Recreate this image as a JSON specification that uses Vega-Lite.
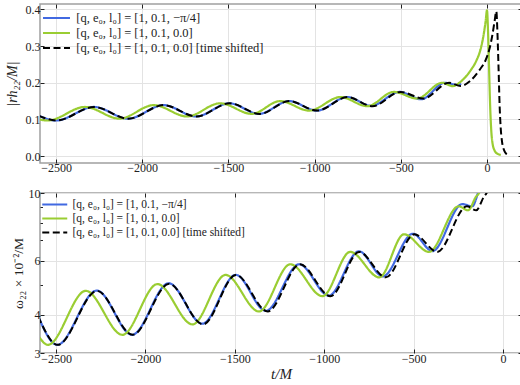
{
  "$schema": "https://vega.github.io/schema/vega-lite/v6.json",
  "padding": {"left": 4, "top": 2, "right": 2, "bottom": 2},
  "spacing": 12,
  "config": {
    "font": "Liberation Serif",
    "view": {"stroke": "#a0a0a0", "strokeWidth": 1.5},
    "axis": {
      "domain": false, "grid": true, "gridColor": "#e3e3e3", "gridWidth": 1,
      "tickColor": "#222", "tickSize": -4, "tickWidth": 1,
      "labelFont": "Liberation Serif", "labelFontSize": 12, "labelColor": "#222",
      "titleFont": "Liberation Serif", "titleFontWeight": "normal", "titleColor": "#222"
    },
    "legend": {"labelFont": "Liberation Serif", "labelColor": "#222", "labelLimit": 400}
  },
  "datasets": {
    "amp": [
      {"s":"b","t":-2600,"A":0.110},{"s":"b","t":-2500,"A":0.097},{"s":"b","t":-2280,"A":0.134},{"s":"b","t":-2082,"A":0.102},
      {"s":"b","t":-1876,"A":0.139},{"s":"b","t":-1688,"A":0.108},{"s":"b","t":-1494,"A":0.144},{"s":"b","t":-1323,"A":0.115},
      {"s":"b","t":-1148,"A":0.150},{"s":"b","t":-988,"A":0.124},{"s":"b","t":-811,"A":0.161},{"s":"b","t":-672,"A":0.137},
      {"s":"b","t":-508,"A":0.175},{"s":"b","t":-382,"A":0.155},{"s":"b","t":-245,"A":0.200},{"s":"b","t":-172,"A":0.194},
      {"s":"b","t":-150,"A":0.197},
      {"s":"g","t":-2600,"A":0.100},{"s":"g","t":-2548,"A":0.097},{"s":"g","t":-2332,"A":0.134},{"s":"g","t":-2132,"A":0.102},
      {"s":"g","t":-1933,"A":0.139},{"s":"g","t":-1740,"A":0.108},{"s":"g","t":-1548,"A":0.144},{"s":"g","t":-1365,"A":0.115},
      {"s":"g","t":-1200,"A":0.150},{"s":"g","t":-1032,"A":0.124},{"s":"g","t":-850,"A":0.161},{"s":"g","t":-694,"A":0.136},
      {"s":"g","t":-541,"A":0.175},{"s":"g","t":-405,"A":0.157},{"s":"g","t":-260,"A":0.200},{"s":"g","t":-200,"A":0.191},
      {"s":"g","t":-150,"A":0.204},{"s":"g","t":-95,"A":0.234},{"s":"g","t":-60,"A":0.262},{"s":"g","t":-37,"A":0.292},
      {"s":"g","t":-20,"A":0.330},{"s":"g","t":-8,"A":0.368},{"s":"g","t":0,"A":0.398},{"s":"g","t":6,"A":0.34},
      {"s":"g","t":12,"A":0.24},{"s":"g","t":18,"A":0.14},{"s":"g","t":24,"A":0.075},{"s":"g","t":31,"A":0.038},
      {"s":"g","t":45,"A":0.014},{"s":"g","t":62,"A":0.006},{"s":"g","t":80,"A":0.003},
      {"s":"k","t":-2600,"A":0.110},{"s":"k","t":-2498,"A":0.097},{"s":"k","t":-2279,"A":0.134},{"s":"k","t":-2080,"A":0.102},
      {"s":"k","t":-1876,"A":0.139},{"s":"k","t":-1686,"A":0.108},{"s":"k","t":-1492,"A":0.144},{"s":"k","t":-1318,"A":0.115},
      {"s":"k","t":-1148,"A":0.150},{"s":"k","t":-985,"A":0.124},{"s":"k","t":-808,"A":0.161},{"s":"k","t":-664,"A":0.136},
      {"s":"k","t":-501,"A":0.175},{"s":"k","t":-370,"A":0.157},{"s":"k","t":-220,"A":0.200},{"s":"k","t":-153,"A":0.191},
      {"s":"k","t":-100,"A":0.204},{"s":"k","t":-45,"A":0.234},{"s":"k","t":-8,"A":0.262},{"s":"k","t":14,"A":0.292},
      {"s":"k","t":31,"A":0.330},{"s":"k","t":44,"A":0.368},{"s":"k","t":54,"A":0.395},{"s":"k","t":61,"A":0.33},
      {"s":"k","t":67,"A":0.24},{"s":"k","t":73,"A":0.14},{"s":"k","t":79,"A":0.08},{"s":"k","t":87,"A":0.04},
      {"s":"k","t":100,"A":0.015},{"s":"k","t":112,"A":0.006},{"s":"k","t":124,"A":0.003}
    ],
    "freq": [
      {"s":"b","t":-2600,"w":3.95},{"s":"b","t":-2494,"w":3.19},{"s":"b","t":-2272,"w":4.80},{"s":"b","t":-2075,"w":3.44},
      {"s":"b","t":-1870,"w":5.07},{"s":"b","t":-1682,"w":3.74},{"s":"b","t":-1495,"w":5.40},{"s":"b","t":-1327,"w":4.12},
      {"s":"b","t":-1140,"w":5.85},{"s":"b","t":-975,"w":4.62},{"s":"b","t":-806,"w":6.45},{"s":"b","t":-672,"w":5.34},
      {"s":"b","t":-505,"w":7.36},{"s":"b","t":-395,"w":6.46},{"s":"b","t":-228,"w":9.2},{"s":"b","t":-172,"w":9.05},
      {"s":"b","t":-140,"w":10.0},{"s":"b","t":-125,"w":10.6},
      {"s":"g","t":-2600,"w":3.42},{"s":"g","t":-2546,"w":3.19},{"s":"g","t":-2334,"w":4.79},{"s":"g","t":-2129,"w":3.44},
      {"s":"g","t":-1933,"w":5.04},{"s":"g","t":-1737,"w":3.72},{"s":"g","t":-1552,"w":5.40},{"s":"g","t":-1365,"w":4.10},
      {"s":"g","t":-1190,"w":5.85},{"s":"g","t":-1010,"w":4.60},{"s":"g","t":-855,"w":6.42},{"s":"g","t":-692,"w":5.30},
      {"s":"g","t":-554,"w":7.33},{"s":"g","t":-414,"w":6.42},{"s":"g","t":-248,"w":9.05},{"s":"g","t":-196,"w":8.78},
      {"s":"g","t":-150,"w":9.75},{"s":"g","t":-134,"w":10.0},{"s":"g","t":-120,"w":10.5},
      {"s":"k","t":-2600,"w":3.95},{"s":"k","t":-2491,"w":3.19},{"s":"k","t":-2271,"w":4.79},{"s":"k","t":-2072,"w":3.44},
      {"s":"k","t":-1868,"w":5.05},{"s":"k","t":-1678,"w":3.72},{"s":"k","t":-1494,"w":5.40},{"s":"k","t":-1316,"w":4.10},
      {"s":"k","t":-1136,"w":5.85},{"s":"k","t":-965,"w":4.60},{"s":"k","t":-805,"w":6.42},{"s":"k","t":-655,"w":5.30},
      {"s":"k","t":-496,"w":7.33},{"s":"k","t":-368,"w":6.42},{"s":"k","t":-202,"w":9.05},{"s":"k","t":-150,"w":8.78},
      {"s":"k","t":-106,"w":9.75},{"s":"k","t":-92,"w":10.0},{"s":"k","t":-78,"w":10.5}
    ]
  },
  "vconcat": [
    {
      "width": 482, "height": 159,
      "data": {"name": "amp"},
      "layer": [
        {
          "transform": [{"filter": "datum.s != 'k'"}],
          "mark": {"type": "line", "clip": true, "strokeWidth": 2.2, "interpolate": "monotone"},
          "encoding": {
            "x": {"field": "t", "type": "quantitative", "scale": {"domain": [-2593, 203], "nice": false, "zero": false},
                  "axis": {"orient": "bottom", "values": [-2500, -2000, -1500, -1000, -500, 0], "format": "d", "title": null, "labelPadding": 3}},
            "y": {"field": "A", "type": "quantitative", "scale": {"domain": [-0.019, 0.415], "nice": false, "zero": false},
                  "axis": {"orient": "left", "values": [0, 0.1, 0.2, 0.3, 0.4], "format": ".1f", "title": "|rh₂₂/M|",
                           "titleFontSize": 14, "titleFontStyle": "italic", "labelPadding": 4, "minExtent": 20, "maxExtent": 20, "titlePadding": 1}},
            "color": {"field": "s", "type": "nominal", "scale": {"domain": ["b", "g", "k"], "range": ["#4169e1", "#9acd32", "#000000"]},
                      "legend": {"orient": "none", "legendX": 8.5, "legendY": 6, "title": null, "labelFontSize": 12.5, "symbolType": "M-2,0H2", "symbolSize": 182,
                                 "symbolStrokeWidth": 2.2, "labelOffset": 11.75, "rowPadding": 0, "padding": 0,
                                 "labelExpr": "datum.label == 'b' ? '[q, e₀, l₀] = [1, 0.1, −π/4]' : datum.label == 'g' ? '[q, e₀, l₀] = [1, 0.1, 0.0]' : '[q, e₀, l₀] = [1, 0.1, 0.0] [time shifted]'"}},
            "strokeDash": {"field": "s", "type": "nominal", "scale": {"domain": ["b", "g", "k"], "range": [[1, 0], [1, 0], [7, 3.5]]},
                      "legend": {"orient": "none", "legendX": 8.5, "legendY": 6, "title": null, "labelFontSize": 12.5, "symbolType": "M-2,0H2", "symbolSize": 182,
                                 "symbolStrokeWidth": 2.2, "labelOffset": 11.75, "rowPadding": 0, "padding": 0,
                                 "labelExpr": "datum.label == 'b' ? '[q, e₀, l₀] = [1, 0.1, −π/4]' : datum.label == 'g' ? '[q, e₀, l₀] = [1, 0.1, 0.0]' : '[q, e₀, l₀] = [1, 0.1, 0.0] [time shifted]'"}}
          }
        },
        {
          "transform": [{"filter": "datum.s == 'k'"}],
          "mark": {"type": "line", "clip": true, "strokeWidth": 2, "interpolate": "monotone"},
          "encoding": {
            "x": {"field": "t", "type": "quantitative",
                  "axis": {"orient": "top", "values": [-2500, -2000, -1500, -1000, -500, 0], "title": null, "labels": false, "grid": false}},
            "y": {"field": "A", "type": "quantitative",
                  "axis": {"orient": "right", "values": [0, 0.1, 0.2, 0.3, 0.4], "title": null, "labels": false, "grid": false}},
            "color": {"field": "s", "type": "nominal"},
            "strokeDash": {"field": "s", "type": "nominal"}
          }
        }
      ],
      "resolve": {"axis": {"x": "independent", "y": "independent"}}
    },
    {
      "width": 482, "height": 160,
      "data": {"name": "freq"},
      "layer": [
        {
          "transform": [{"filter": "datum.s != 'k'"}],
          "mark": {"type": "line", "clip": true, "strokeWidth": 2.2, "interpolate": "monotone"},
          "encoding": {
            "x": {"field": "t", "type": "quantitative", "scale": {"domain": [-2590, 106], "nice": false, "zero": false},
                  "axis": {"orient": "bottom", "values": [-2500, -2000, -1500, -1000, -500, 0], "format": "d", "title": "t/M",
                           "titleFontSize": 15, "titleFontStyle": "italic", "titlePadding": 2, "labelPadding": 4}},
            "y": {"field": "w", "type": "quantitative", "scale": {"type": "log", "domain": [3, 10], "nice": false, "zero": false},
                  "axis": {"orient": "left", "values": [3, 4, 5, 6, 7, 8, 9, 10], "title": "ω₂₂ × 10⁻²/M", "titleFontSize": 13.5,
                           "labelExpr": "(datum.value == 3 || datum.value == 4 || datum.value == 6 || datum.value == 10) ? datum.value : ''",
                           "gridOpacity": {"condition": {"test": "datum.value == 5 || datum.value == 7 || datum.value == 8 || datum.value == 9", "value": 0}, "value": 1},
                           "tickSize": {"condition": {"test": "datum.value == 5 || datum.value == 7 || datum.value == 8 || datum.value == 9", "value": -2.5}, "value": -4},
                           "labelPadding": 4, "minExtent": 14, "maxExtent": 14, "titlePadding": 1}},
            "color": {"field": "s", "type": "nominal", "scale": {"domain": ["b", "g", "k"], "range": ["#4169e1", "#9acd32", "#000000"]},
                      "legend": {"orient": "none", "legendX": 7.25, "legendY": 4, "title": null, "labelFontSize": 11.5, "symbolType": "M-2,0H2", "symbolSize": 156,
                                 "symbolStrokeWidth": 2.2, "labelOffset": 10.25, "rowPadding": 1, "padding": 0,
                                 "labelExpr": "datum.label == 'b' ? '[q, e₀, l₀] = [1, 0.1, −π/4]' : datum.label == 'g' ? '[q, e₀, l₀] = [1, 0.1, 0.0]' : '[q, e₀, l₀] = [1, 0.1, 0.0] [time shifted]'"}},
            "strokeDash": {"field": "s", "type": "nominal", "scale": {"domain": ["b", "g", "k"], "range": [[1, 0], [1, 0], [7, 3.5]]},
                      "legend": {"orient": "none", "legendX": 7.25, "legendY": 4, "title": null, "labelFontSize": 11.5, "symbolType": "M-2,0H2", "symbolSize": 156,
                                 "symbolStrokeWidth": 2.2, "labelOffset": 10.25, "rowPadding": 1, "padding": 0,
                                 "labelExpr": "datum.label == 'b' ? '[q, e₀, l₀] = [1, 0.1, −π/4]' : datum.label == 'g' ? '[q, e₀, l₀] = [1, 0.1, 0.0]' : '[q, e₀, l₀] = [1, 0.1, 0.0] [time shifted]'"}}
          }
        },
        {
          "transform": [{"filter": "datum.s == 'k'"}],
          "mark": {"type": "line", "clip": true, "strokeWidth": 2, "interpolate": "monotone"},
          "encoding": {
            "x": {"field": "t", "type": "quantitative",
                  "axis": {"orient": "top", "values": [-2500, -2000, -1500, -1000, -500, 0], "title": null, "labels": false, "grid": false}},
            "y": {"field": "w", "type": "quantitative",
                  "axis": {"orient": "right", "values": [3, 4, 5, 6, 7, 8, 9, 10], "title": null, "labels": false, "grid": false,
                           "tickSize": {"condition": {"test": "datum.value == 5 || datum.value == 7 || datum.value == 8 || datum.value == 9", "value": -2.5}, "value": -4}}},
            "color": {"field": "s", "type": "nominal"},
            "strokeDash": {"field": "s", "type": "nominal"}
          }
        }
      ],
      "resolve": {"axis": {"x": "independent", "y": "independent"}}
    }
  ],
  "resolve": {"scale": {"x": "independent", "y": "independent", "color": "independent", "strokeDash": "independent"}}
}
